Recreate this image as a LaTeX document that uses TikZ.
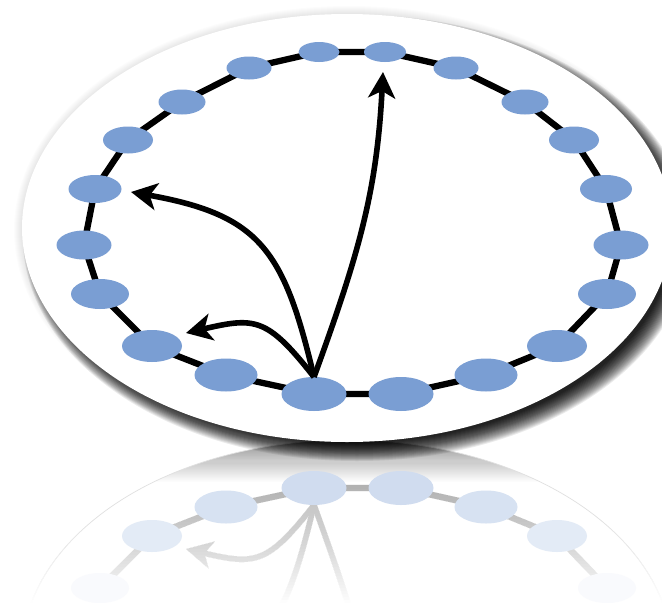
\documentclass[tikz,border=0pt]{standalone}
\usetikzlibrary{shapes.geometric, arrows.meta}
\definecolor{nodeblue}{RGB}{122,158,211}
\tikzset{
  ringshape/.style={ellipse, inner sep=0pt, outer sep=0pt},
  ringnode/.style={ringshape, fill=nodeblue},
  ringedge/.style={line width=6.3pt, draw=black, line join=round},
  arr/.style={line width=5.6pt, draw=black, -{Stealth[length=26pt, width=27pt, inset=7pt]}},
}
\newcommand\nodelist{1/314/394/65/34, 2/401/394/65/34, 3/486/375/63/33,
      4/557/346/60/32, 5/607/294/58/30, 6/621/245/55/29, 7/606/189/52/28,
      8/574/140/50/27, 9/525/102/47/25, 10/456/68/45/23, 11/385/52/42/20,
      12/319/52/41/20, 13/249/68/45/23, 14/182/102/47/25, 15/128/140/50/27,
      16/95/189/53/28, 17/84/245/55/29, 18/100/294/58/30, 19/152/346/60/32,
      20/226/375/63/33}
\newcommand\srcanchor{north}
\newcommand\ringdiagram{%
  \foreach \i/\x/\y/\w/\h in \nodelist {%
    \path (\x,\y) node[ringshape, minimum width=\w pt, minimum height=\h pt] (n\i) {};
  }
  \draw[ringedge] (n1.center) -- (n2.center) -- (n3.center) -- (n4.center)
    -- (n5.center) -- (n6.center) -- (n7.center) -- (n8.center) -- (n9.center)
    -- (n10.center) -- (n11.center) -- (n12.center) -- (n13.center)
    -- (n14.center) -- (n15.center) -- (n16.center) -- (n17.center)
    -- (n18.center) -- (n19.center) -- (n20.center) -- cycle;
  \foreach \i/\x/\y/\w/\h in \nodelist {%
    \node[ringnode, minimum width=\w pt, minimum height=\h pt] at (n\i.center) {};
  }
  \coordinate (t1) at (383,72);
  \coordinate (t2) at (131,192);
  \coordinate (t3) at (186,333);
  \draw[arr] (n1.\srcanchor) .. controls (358.5,254.8) and (376.7,192.8) .. (t1);
  \draw[arr] (n1.\srcanchor) .. controls (284,250) and (260,215) .. (t2);
  \draw[arr] (n1.\srcanchor) .. controls (267,317) and (255,317) .. (t3);
}
\begin{document}
\begin{tikzpicture}[x=1pt, y=-1pt]
  \useasboundingbox (0,0) rectangle (662,603);
  \clip (0,0) rectangle (662,603);
  \fill[white] (0,0) rectangle (662,603);
  % reflected shadow band
  \begin{scope}
    \clip (347,654) ellipse [x radius=325, y radius=214];
    \shade[top color=black!42, bottom color=white] (100,441) rectangle (600,482);
  \end{scope}
  % reflection: outline, edges and arrows
  \begin{scope}
    \clip (0,441) rectangle (662,603);
    \begin{scope}[yshift=-882pt, yscale=-1,
        ringnode/.style={ringshape},
        ringedge/.style={line width=6.3pt, draw=black!36, line join=round},
        arr/.style={line width=5.6pt, draw=black!30, -{Stealth[length=26pt, width=27pt, inset=7pt]}}]
      \draw[black!12, line width=0.7pt] (347,228) ellipse [x radius=325, y radius=214];
      \renewcommand\srcanchor{south}
      \ringdiagram
    \end{scope}
  \end{scope}
  % fade-out of the reflection
  \fill[white, opacity=0.0093] (0,441) rectangle (662,603);
  \foreach \k in {1,...,53}{%
    \pgfmathsetmacro\op{1/(54.5-\k)}
    \fill[white, opacity=\op] (0,{441+3*\k}) rectangle (662,603);
  }
  % reflection: nodes, faded by their depth
  \begin{scope}
    \clip (0,441) rectangle (662,603);
    \foreach \i/\x/\y/\w/\h in \nodelist {%
      \pgfmathsetmacro\fd{max(0, min(100, 36*(1-((882-\y)-441)/162)/(1-46/162)))}
      \fill[nodeblue!\fd!white] (\x,{882-\y}) ellipse [x radius={\w/2}, y radius={\h/2}];
    }
  \end{scope}
  % shadow of the disc
  \foreach \k in {0,...,19}{%
    \fill[black, opacity=0.08] (357,238) ellipse [x radius={315+\k}, y radius={204+\k}];
  }
  \foreach \k in {0,...,9}{%
    \fill[black, opacity=0.012] (349,230) ellipse [x radius={326+\k}, y radius={215+\k}];
  }
  % disc
  \fill[white] (347,228) ellipse [x radius=325, y radius=214];
  \ringdiagram
\end{tikzpicture}
\end{document}
